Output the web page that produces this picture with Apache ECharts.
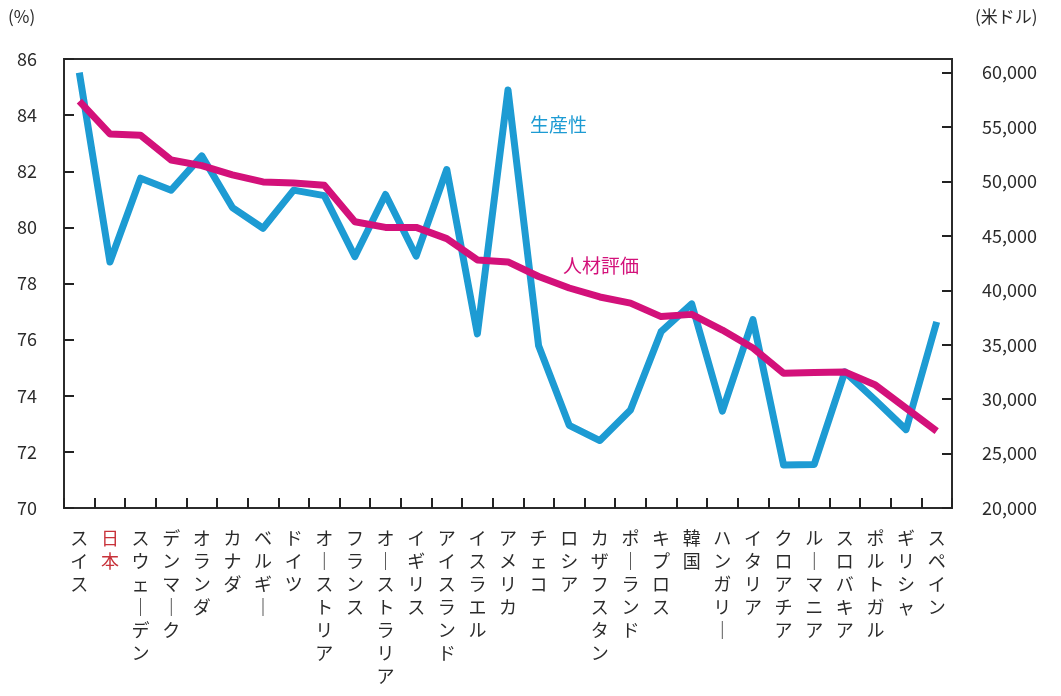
<!DOCTYPE html>
<html>
<head>
<meta charset="utf-8">
<script src="https://cdn.jsdelivr.net/npm/echarts@6/dist/echarts.min.js"></script>
<style>
html, body { margin: 0; padding: 0; background: #fff; }
#myChart { width: 1061px; height: 696px; }
</style>
</head>
<body>
<div id="myChart"></div>
<script>
//国名
var countries = ['スイス', '日本', 'スウェーデン', 'デンマーク', 'オランダ', 'カナダ', 'ベルギー', 'ドイツ',
    'オーストリア', 'フランス', 'オーストラリア', 'イギリス', 'アイスランド', 'イスラエル', 'アメリカ', 'チェコ',
    'ロシア', 'カザフスタン', 'ポーランド', 'キプロス', '韓国', 'ハンガリー', 'イタリア', 'クロアチア',
    'ルーマニア', 'スロバキア', 'ポルトガル', 'ギリシャ', 'スペイン'];

//人材評価（%）
var talentScore = [84.5, 83.33, 83.28, 82.4, 82.2, 81.87, 81.62, 81.58, 81.5, 80.2, 80.0, 80.0, 79.6, 78.84,
    78.77, 78.25, 77.84, 77.52, 77.3, 76.82, 76.9, 76.34, 75.7, 74.8, 74.83, 74.85, 74.38, 73.56, 72.74];

//生産性（米ドル）
var productivity = [60000, 42600, 50300, 49200, 52350, 47600, 45700, 49200, 48700, 43100, 48800, 43150, 51100,
    36000, 58400, 34900, 27600, 26200, 29000, 36200, 38750, 28900, 37300, 23950, 24000, 32500, 29900, 27200, 37100];

var leftTicks = [70, 86, 2];
var rightTicks = [20000, 61250, 5000];

var axisColor = '#2b2b2b';
var textColor = '#2b2b2b';
var blue = '#1d9bd3';
var pink = '#d3117a';
var font = '"Noto Sans CJK JP", "Noto Sans", sans-serif';

//縦書きラベル
function verticalLabel(value) {
    var chars = value.split('').map(function (c) {
        return c === 'ー' ? '｜' : c;
    });
    var tag = value === '日本' ? 'r' : 'n';
    return chars.map(function (c) {
        return '{' + tag + '|' + c + '}';
    }).join('\n');
}

var myChart = echarts.init(document.getElementById('myChart'));
var option = {
    animation: false,
    grid: {
        left: 64,
        right: 109,
        top: 59,
        bottom: 188,
        show: true,
        borderColor: axisColor,
        borderWidth: 2
    },
    xAxis: {
        type: 'category',
        data: countries,
        axisLine: {lineStyle: {color: axisColor, width: 2}},
        axisTick: {show: true, inside: true, length: 10, lineStyle: {color: '#222', width: 2}},
        axisLabel: {
            interval: 0,
            margin: 19,
            verticalAlign: 'top',
            formatter: verticalLabel,
            rich: {
                n: {fontSize: 18, lineHeight: 23, color: textColor, fontFamily: font},
                r: {fontSize: 18, lineHeight: 23, color: '#c8323a', fontFamily: font}
            }
        }
    },
    yAxis: [{
        type: 'value',
        min: leftTicks[0],
        max: leftTicks[1],
        interval: leftTicks[2],
        axisLine: {show: true, lineStyle: {color: axisColor, width: 2}},
        axisTick: {show: true, inside: true, length: 10, lineStyle: {color: '#222', width: 2}},
        axisLabel: {margin: 27, fontSize: 18, color: textColor, fontFamily: font},
        splitLine: {show: false}
    }, {
        type: 'value',
        position: 'right',
        min: rightTicks[0],
        max: rightTicks[1],
        interval: rightTicks[2],
        axisLine: {show: true, lineStyle: {color: axisColor, width: 2}},
        axisTick: {show: true, inside: true, length: 10, lineStyle: {color: '#222', width: 2}},
        axisLabel: {
            margin: 30,
            fontSize: 18,
            color: textColor,
            fontFamily: font,
            showMaxLabel: false
        },
        splitLine: {show: false}
    }],
    graphic: [
        {type: 'text', left: 8, top: 8, style: {text: '(%)', fill: textColor, font: '17px ' + font}},
        {type: 'text', left: 975, top: 8, style: {text: '(米ドル)', fill: textColor, font: '17px ' + font}},
        {type: 'text', left: 530, top: 115, style: {text: '生産性', fill: blue, font: '19px ' + font}},
        {type: 'text', left: 563, top: 256, style: {text: '人材評価', fill: pink, font: '19px ' + font}}
    ],
    series: [{
        name: '生産性',
        type: 'line',
        yAxisIndex: 1,
        data: productivity,
        symbol: 'none',
        lineStyle: {color: blue, width: 7, join: 'round'}
    }, {
        name: '人材評価',
        type: 'line',
        data: talentScore,
        symbol: 'none',
        lineStyle: {color: pink, width: 7, join: 'round'}
    }]
};
myChart.setOption(option);
</script>
</body>
</html>
